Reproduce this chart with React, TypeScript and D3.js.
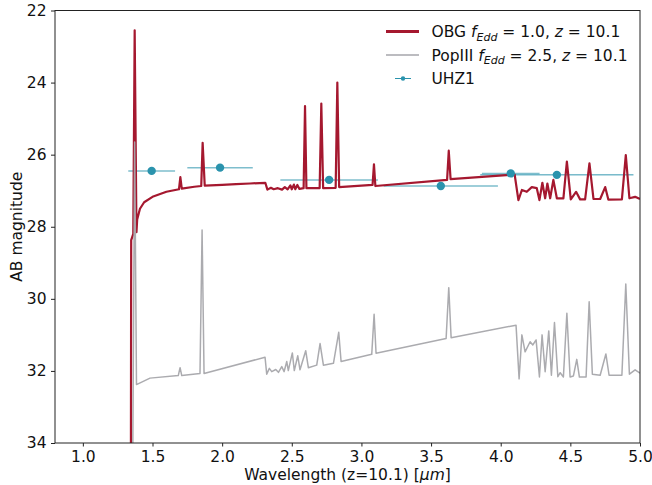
import { useEffect, useRef } from 'react';
import * as d3 from 'd3';

// OBG model, f_Edd = 1.0 (wavelength in micron, AB mag)
const OBG_WAVE = [
  1.345, 1.347, 1.362, 1.372, 1.385, 1.39, 1.41, 1.44, 1.5, 1.6, 1.69, 1.7, 1.71, 1.8, 1.85, 1.86, 1.875,
  2.0, 2.1, 2.2, 2.31, 2.325, 2.35, 2.37, 2.4, 2.43, 2.45, 2.47, 2.49, 2.5, 2.515, 2.525, 2.54, 2.555,
  2.585, 2.595, 2.605, 2.7, 2.712, 2.725, 2.815, 2.827, 2.84, 3.08, 3.09, 3.1, 3.615, 3.627, 3.64,
  4.1, 4.127, 4.152, 4.187, 4.223, 4.259, 4.278, 4.299, 4.319, 4.335, 4.355, 4.378, 4.403, 4.45,
  4.475, 4.503, 4.541, 4.57, 4.606, 4.637, 4.666, 4.714, 4.75, 4.773, 4.87, 4.898, 4.924, 4.965, 5.0,
];
const OBG_MAG = [
  34.5, 28.37, 28.2, 22.55, 28.15, 27.8, 27.5, 27.32, 27.17, 27.03, 26.96, 26.62, 26.94, 26.89, 26.87, 25.67, 26.86,
  26.84, 26.82, 26.8, 26.78, 26.97, 26.92, 26.96, 26.93, 26.97, 26.9, 26.96, 26.85, 26.96, 26.83, 26.96, 26.84, 26.95,
  26.93, 24.65, 26.93, 26.93, 24.58, 26.93, 26.92, 24.0, 26.9, 26.84, 26.27, 26.87, 26.7, 25.89, 26.68,
  26.55, 27.26, 26.98, 27.03, 26.9, 26.93, 27.26, 26.78, 27.21, 26.8, 27.21, 26.7, 27.21, 27.21,
  26.19, 27.24, 27.03, 27.24, 27.24, 26.24, 27.23, 27.23, 26.9, 27.25, 27.24, 26.01, 27.21, 27.17, 27.23,
];

// PopIII model, f_Edd = 2.5
const POP3_WAVE = [
  1.358, 1.372, 1.385, 1.482, 1.685, 1.698, 1.71, 1.841, 1.856, 1.87, 2.308, 2.32, 2.339, 2.356, 2.385,
  2.404, 2.428, 2.445, 2.464, 2.475, 2.504, 2.518, 2.543, 2.559, 2.6, 2.619, 2.679, 2.703, 2.727, 2.799,
  2.837, 2.854, 3.074, 3.091, 3.105, 3.608, 3.627, 3.644, 4.11, 4.132, 4.152, 4.175, 4.211, 4.23, 4.254,
  4.278, 4.297, 4.319, 4.345, 4.364, 4.386, 4.41, 4.427, 4.45, 4.475, 4.498, 4.522, 4.546, 4.565, 4.613,
  4.635, 4.658, 4.714, 4.755, 4.778, 4.87, 4.898, 4.924, 4.965, 5.0,
];
const POP3_MAG = [
  34.5, 25.65, 32.38, 32.2, 32.13, 31.91, 32.13, 32.07, 28.09, 32.07, 31.62, 32.09, 31.93, 32.02, 31.96,
  32.04, 31.88, 32.02, 31.74, 31.99, 31.5, 31.99, 31.58, 31.97, 31.44, 31.91, 31.84, 31.24, 31.84, 31.79,
  30.93, 31.74, 31.54, 30.43, 31.51, 31.1, 29.69, 31.08, 30.73, 32.22, 31.0, 31.47, 31.19, 31.28, 31.14,
  32.17, 31.0, 32.02, 30.89, 32.12, 30.66, 32.16, 32.05, 32.17, 30.4, 32.17, 32.14, 31.68, 32.17, 32.17,
  30.08, 32.09, 32.12, 31.53, 32.12, 32.12, 29.59, 32.09, 31.97, 32.06,
];

// UHZ1 photometry
const UHZ1_WAVE = [1.494, 1.985, 2.768, 3.57, 4.072, 4.403];
const UHZ1_MAG = [26.45, 26.36, 26.7, 26.87, 26.52, 26.56];
const UHZ1_XERR = [0.168, 0.235, 0.35, 0.41, 0.207, 0.55];

const X_TICKS = [1.0, 1.5, 2.0, 2.5, 3.0, 3.5, 4.0, 4.5, 5.0];
const Y_TICKS = [22, 24, 26, 28, 30, 32, 34];

const RED = '#a5182f';
const GRAY = '#a6a6ab';
const TEAL = '#2a93ad';
const FONT = '"DejaVu Sans", sans-serif';
const FS = '15.5px';

const W = 652;
const H = 485;
const M = { top: 10.5, right: 12, bottom: 42, left: 55 };

export default function App() {
  const svgRef = useRef<SVGSVGElement>(null);

  useEffect(() => {
    document.body.style.margin = '0';
    if (!svgRef.current) return;
    const w = W - M.left - M.right;
    const h = H - M.top - M.bottom;

    const svg = d3.select(svgRef.current);
    svg.selectAll('*').remove();

    const x = d3.scaleLinear().domain([0.8, 5.0]).range([0, w]);
    const y = d3.scaleLinear().domain([22, 34]).range([0, h]);

    svg.append('defs').append('clipPath').attr('id', 'plot-clip')
      .append('rect').attr('width', w).attr('height', h);

    const g = svg.append('g').attr('transform', `translate(${M.left},${M.top})`);
    const plot = g.append('g').attr('clip-path', 'url(#plot-clip)');

    // UHZ1 horizontal error bars (under the models)
    UHZ1_WAVE.forEach((wl, i) => {
      const last = i === UHZ1_WAVE.length - 1;
      plot.append('line')
        .attr('x1', x(wl - UHZ1_XERR[i])).attr('x2', x(wl + UHZ1_XERR[i]))
        .attr('y1', y(UHZ1_MAG[i])).attr('y2', y(UHZ1_MAG[i]))
        .attr('stroke', TEAL)
        .attr('stroke-width', last ? 1 : 1.5)
        .attr('opacity', last ? 0.95 : 0.6);
    });

    const modelLine = (wave: number[], mag: number[]) =>
      d3.line<number>()
        .x((_, i) => x(wave[i]))
        .y((_, i) => y(mag[i]))(mag) || '';

    plot.append('path')
      .attr('d', modelLine(OBG_WAVE, OBG_MAG))
      .attr('fill', 'none').attr('stroke', RED).attr('stroke-width', 2.2)
      .attr('stroke-linejoin', 'round');

    plot.append('path')
      .attr('d', modelLine(POP3_WAVE, POP3_MAG))
      .attr('fill', 'none').attr('stroke', GRAY).attr('stroke-width', 1.5)
      .attr('stroke-linejoin', 'round').attr('opacity', 0.95);

    // UHZ1 markers
    plot.selectAll('circle.uhz')
      .data(UHZ1_WAVE)
      .join('circle')
      .attr('class', 'uhz')
      .attr('cx', d => x(d))
      .attr('cy', (_, i) => y(UHZ1_MAG[i]))
      .attr('r', 4.2)
      .attr('fill', TEAL);

    // Axes
    const xAxis = g.append('g')
      .attr('transform', `translate(0,${h})`)
      .call(d3.axisBottom(x).tickValues(X_TICKS).tickFormat(d3.format('.1f')).tickSize(3.5).tickPadding(4));
    const yAxis = g.append('g')
      .call(d3.axisLeft(y).tickValues(Y_TICKS).tickFormat(d3.format('d')).tickSize(4).tickPadding(4.5));
    [xAxis, yAxis].forEach(ax => {
      ax.select('.domain').remove();
      ax.selectAll('.tick line').attr('stroke', '#222').attr('stroke-width', 1);
      ax.selectAll('text').attr('fill', '#111').attr('font-size', FS).attr('font-family', FONT);
    });

    // Frame
    g.append('rect')
      .attr('width', w).attr('height', h)
      .attr('fill', 'none').attr('stroke', '#222').attr('stroke-width', 1);

    // Axis labels
    const xl = g.append('text')
      .attr('x', w / 2).attr('y', h + 37)
      .attr('text-anchor', 'middle')
      .attr('font-size', FS).attr('font-family', FONT).attr('fill', '#111');
    xl.append('tspan').text('Wavelength (z=10.1) [');
    xl.append('tspan').attr('font-style', 'italic').text('μm');
    xl.append('tspan').text(']');

    svg.append('text')
      .attr('transform', `translate(21.5,${M.top + h / 2}) rotate(-90)`)
      .attr('text-anchor', 'middle')
      .attr('font-size', FS).attr('font-family', FONT).attr('fill', '#111')
      .text('AB magnitude');

    // Legend
    const legend = svg.append('g').attr('font-family', FONT).attr('font-size', FS).attr('fill', '#111');
    const rows = [
      { name: 'OBG ', fedd: '1.0', kind: 'red' },
      { name: 'PopIII ', fedd: '2.5', kind: 'gray' },
      { name: 'UHZ1', fedd: '', kind: 'uhz' },
    ];
    rows.forEach((r, i) => {
      const cy = 31.5 + i * 23.5;
      if (r.kind === 'red') {
        legend.append('line').attr('x1', 386).attr('x2', 419).attr('y1', cy).attr('y2', cy)
          .attr('stroke', RED).attr('stroke-width', 3);
      } else if (r.kind === 'gray') {
        legend.append('line').attr('x1', 386).attr('x2', 419).attr('y1', cy).attr('y2', cy)
          .attr('stroke', GRAY).attr('stroke-width', 1.5);
      } else {
        legend.append('line').attr('x1', 395).attr('x2', 411).attr('y1', cy).attr('y2', cy)
          .attr('stroke', TEAL).attr('stroke-width', 1);
        legend.append('circle').attr('cx', 403).attr('cy', cy).attr('r', 2.2).attr('fill', TEAL);
      }
      const t = legend.append('text').attr('x', 431.5).attr('y', cy + 5.5);
      t.append('tspan').text(r.name);
      if (r.fedd) {
        t.append('tspan').attr('font-style', 'italic').text('f');
        t.append('tspan').attr('font-style', 'italic').attr('font-size', '11px').attr('dy', 3.5).text('Edd');
        t.append('tspan').attr('dy', -3.5).text(` = ${r.fedd}, `);
        t.append('tspan').attr('font-style', 'italic').text('z');
        t.append('tspan').text(' = 10.1');
      }
    });
  }, []);

  return <svg ref={svgRef} width={W} height={H} style={{ display: 'block', background: '#fff' }} />;
}
